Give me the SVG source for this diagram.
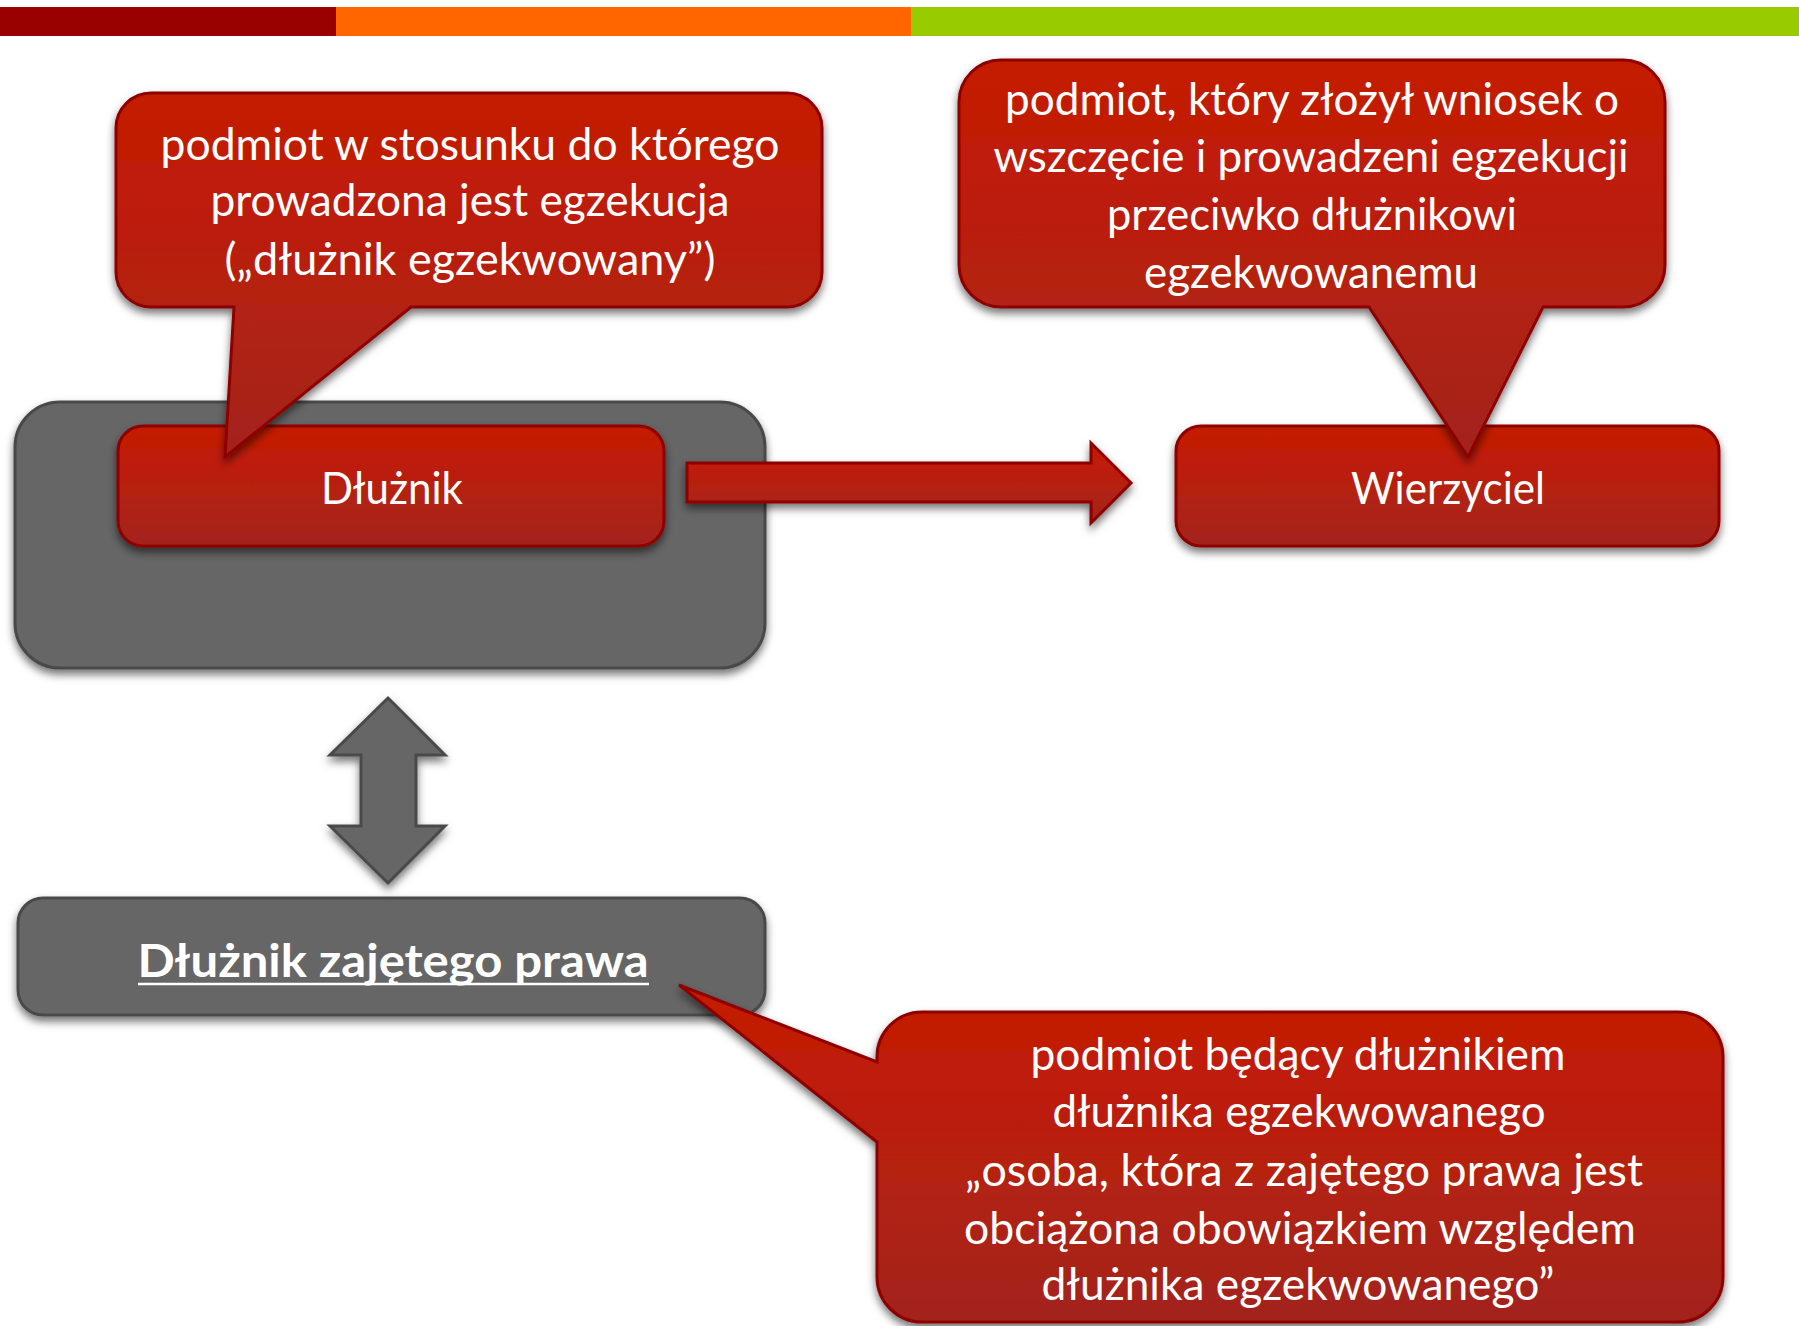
<svg xmlns="http://www.w3.org/2000/svg" width="1799" height="1326" viewBox="0 0 1799 1326">
<defs>
<linearGradient id="redGrad" x1="0" y1="0" x2="0" y2="1">
<stop offset="0" stop-color="#C41B00"/>
<stop offset="0.3" stop-color="#BE1E0A"/>
<stop offset="1" stop-color="#A3241D"/>
</linearGradient>
<filter id="shadow" x="-10%" y="-10%" width="120%" height="130%">
<feDropShadow dx="0" dy="5" stdDeviation="4" flood-color="#000" flood-opacity="0.55"/>
</filter>
<style>
.red{fill:url(#redGrad);stroke:#8E0000;stroke-width:3;filter:url(#shadow)}
.gray{fill:#666666;stroke:#4A4A4A;stroke-width:3;filter:url(#shadow)}
.t{font-family:Lato,"Liberation Sans",sans-serif;font-size:45px;fill:#FFFFFF;text-anchor:middle}
.tb{font-family:Lato,"Liberation Sans",sans-serif;font-size:46px;font-weight:bold;fill:#FFFFFF;text-anchor:middle}
</style>
</defs>
<rect width="1799" height="1326" fill="#FFFFFF"/>
<g id="topbar">
<rect x="0" y="7" width="336" height="29" fill="#990000"/>
<rect x="336" y="7" width="575" height="29" fill="#FF6600"/>
<rect x="911" y="7" width="888" height="29" fill="#99CC00"/>
</g>
<g id="dluznik-group">
<rect class="gray" x="15" y="402" width="750" height="266" rx="45" ry="45"/>
</g>
<g id="dluznik">
<rect class="red" x="118" y="426" width="546" height="120" rx="25" ry="25"/>
<text class="t" x="392" y="504" textLength="142" lengthAdjust="spacingAndGlyphs">Dłużnik</text>
</g>
<g id="wierzyciel">
<rect class="red" x="1176" y="426" width="543" height="120" rx="25" ry="25"/>
<text class="t" x="1448" y="504" textLength="194" lengthAdjust="spacingAndGlyphs">Wierzyciel</text>
</g>
<g id="dluznik-zajetego-prawa">
<rect class="gray" x="18" y="898" width="747" height="117" rx="25" ry="25"/>
<text class="tb" x="393" y="977" textLength="511" lengthAdjust="spacingAndGlyphs">Dłużnik zajętego prawa</text>
<line x1="138" y1="984" x2="649" y2="984" stroke="#FFFFFF" stroke-width="2.5"/>
</g>
<g id="connectors">
<polygon class="red" points="687,463 1091,463 1091,443 1131,483 1091,523 1091,502 687,502"/>
<polygon class="gray" points="388,698 445,755 416,755 416,826 445,826 388,883 330,826 361,826 361,755 330,755"/>
</g>
<g id="callout-dluznik">
<path class="red" d="M151,93 H787 A35,35 0 0 1 822,128 V272 A35,35 0 0 1 787,307 H411 L225,457 L234,307 H151 A35,35 0 0 1 116,272 V128 A35,35 0 0 1 151,93 Z"/>
<text class="t" x="470" y="160" textLength="619" lengthAdjust="spacingAndGlyphs">podmiot w stosunku do którego</text>
<text class="t" x="470" y="216" textLength="519" lengthAdjust="spacingAndGlyphs">prowadzona jest egzekucja</text>
<text class="t" x="470" y="275" textLength="491" lengthAdjust="spacingAndGlyphs">(„dłużnik egzekwowany”)</text>
</g>
<g id="callout-wierzyciel">
<path class="red" d="M1001,60 H1623 A42,42 0 0 1 1665,102 V265 A42,42 0 0 1 1623,307 H1543 L1468,457 L1369,307 H1001 A42,42 0 0 1 959,265 V102 A42,42 0 0 1 1001,60 Z"/>
<text class="t" x="1312" y="115" textLength="614" lengthAdjust="spacingAndGlyphs">podmiot, który złożył wniosek o</text>
<text class="t" x="1311" y="172" textLength="635" lengthAdjust="spacingAndGlyphs">wszczęcie i prowadzeni egzekucji</text>
<text class="t" x="1312" y="230" textLength="410" lengthAdjust="spacingAndGlyphs">przeciwko dłużnikowi</text>
<text class="t" x="1311" y="288" textLength="334" lengthAdjust="spacingAndGlyphs">egzekwowanemu</text>
</g>
<g id="callout-dluznik-zajetego-prawa">
<path class="red" d="M922,1012 H1678 A45,45 0 0 1 1723,1057 V1277 A45,45 0 0 1 1678,1322 H922 A45,45 0 0 1 877,1277 V1142 L679,985 L877,1062 V1057 A45,45 0 0 1 922,1012 Z"/>
<text class="t" x="1298" y="1070" textLength="535" lengthAdjust="spacingAndGlyphs">podmiot będący dłużnikiem</text>
<text class="t" x="1299" y="1127" textLength="493" lengthAdjust="spacingAndGlyphs">dłużnika egzekwowanego</text>
<text class="t" x="1304" y="1186" textLength="678" lengthAdjust="spacingAndGlyphs">„osoba, która z zajętego prawa jest</text>
<text class="t" x="1300" y="1244" textLength="672" lengthAdjust="spacingAndGlyphs">obciążona obowiązkiem względem</text>
<text class="t" x="1298" y="1300" textLength="513" lengthAdjust="spacingAndGlyphs">dłużnika egzekwowanego”</text>
</g>
</svg>
